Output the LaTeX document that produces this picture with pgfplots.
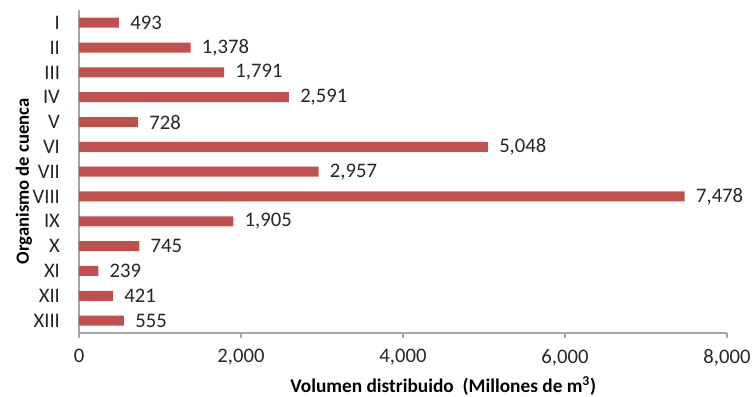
\documentclass[border=0pt]{standalone}
\usepackage{fontspec}
\setmainfont{Carlito}
\usepackage{pgfplots}
\pgfplotsset{compat=1.18}
\definecolor{barRed}{HTML}{C0504D}
\definecolor{axGray}{HTML}{A6A6A6}
\definecolor{txt}{HTML}{262626}

\begin{document}
\begin{tikzpicture}
\begin{axis}[
    xbar,
    scale only axis,
    width=486pt, height=242pt,
    xmin=0, xmax=8000,
    ymin=0.5, ymax=13.5,
    y dir=reverse,
    bar width=7.5pt,
    axis x line=bottom,
    axis y line=left,
    axis line style={draw=axGray, line width=0.8pt, -},
    xtick={0,2000,4000,6000,8000},
    ytick={1,...,13},
    yticklabels={I,II,III,IV,V,VI,VII,VIII,IX,X,XI,XII,XIII},
    x tick style={draw=axGray, line width=0.8pt},
    tick align=outside,
    major tick length=3.75pt,
    y tick style={draw=none},
    xticklabel style={font=\fontsize{15.5}{17}\selectfont, text=txt},
    yticklabel style={font=\fontsize{15.5}{17}\selectfont, text=txt},
    /pgf/number format/.cd, 1000 sep={,}, assume math mode=true,
    /pgfplots/.cd,
    xticklabel shift=5pt,
    yticklabel shift=7pt,
    xlabel={\bfseries Volumen distribuido\ \ (Millones de m\textsuperscript{3})},
    ylabel={\bfseries Organismo de cuenca},
    xlabel style={font=\fontsize{14.5}{16}\selectfont, text=black, at={(axis description cs:0.562,0)}, anchor=center, yshift=-39.5pt},
    ylabel style={font=\fontsize{14}{16}\selectfont, text=black, at={(axis description cs:-0.085,0.47)}, anchor=center},
    nodes near coords,
    nodes near coords style={font=\fontsize{15.5}{17}\selectfont, text=txt, anchor=west, xshift=5pt,
        /pgf/number format/.cd, 1000 sep={,}, fixed, assume math mode=true},
    clip=false,
]
\addplot[fill=barRed, draw=none] coordinates {
    (493,1) (1378,2) (1791,3) (2591,4) (728,5) (5048,6) (2957,7)
    (7478,8) (1905,9) (745,10) (239,11) (421,12) (555,13)
};
\end{axis}
\pgfresetboundingbox
\path (-59.25pt,-47.25pt) rectangle (507pt,249.75pt);
\end{tikzpicture}
\end{document}
